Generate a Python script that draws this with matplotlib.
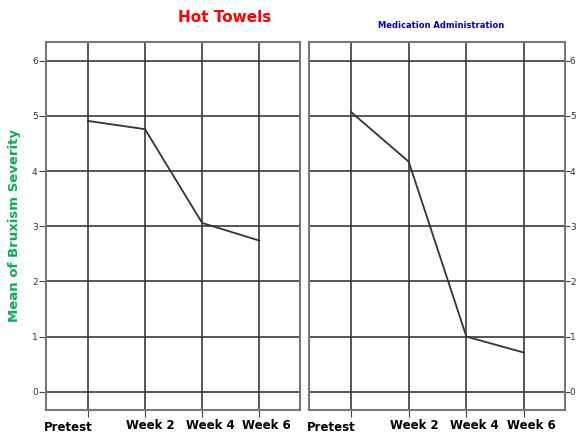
import matplotlib
matplotlib.use('Agg')
import matplotlib.pyplot as plt

TIMEPOINTS = ['Pretest', 'Week 2', 'Week 4', 'Week 6']
HOT_TOWELS = [4.91, 4.76, 3.06, 2.74]
MEDICATION = [5.07, 4.17, 1.00, 0.71]
Y_TICKS = [0, 1, 2, 3, 4, 5, 6]

fig = plt.figure(figsize=(5.76, 4.34), dpi=100)
ax1 = fig.add_axes([46 / 576, 1 - 410 / 434, 254 / 576, 368 / 434])
ax2 = fig.add_axes([309 / 576, 1 - 410 / 434, 256 / 576, 368 / 434])

x = list(range(len(TIMEPOINTS)))
for ax, vals in [(ax1, HOT_TOWELS), (ax2, MEDICATION)]:
    ax.plot(x, vals, color='#333333', lw=1.3, zorder=3)
    ax.set_xlim(-0.73, 3.71)
    ax.set_ylim(-0.33, 6.34)
    ax.set_xticks(x)
    ax.set_yticks(Y_TICKS)
    ax.grid(True, color='#3a3a3a', lw=1.2)
    ax.set_axisbelow(True)
    for s in ax.spines.values():
        s.set_color('#777777')
        s.set_linewidth(1.5)
    ax.tick_params(axis='x', length=5, color='#444444', labelbottom=False)
    ax.tick_params(axis='y', length=5, color='#444444', labelsize=6.5,
                   labelcolor='#333333', pad=1)
    # category labels sit a little off the ticks, as in the original
    offs = [(-14, -12.5), (4, -11.5), (6, -11.5), (5, -11.5)]
    for i, lab in enumerate(TIMEPOINTS):
        ax.annotate(lab, xy=(i, 0), xycoords=('data', 'axes fraction'),
                    xytext=offs[i], textcoords='offset points', ha='center',
                    va='center', fontsize=8.5, fontweight='bold', color='black')

ax2.yaxis.tick_right()
ax2.tick_params(axis='y', length=3.5, color='#444444', labelsize=6.5,
                labelcolor='#333333', pad=0)

ax1.set_ylabel('Mean of Bruxism Severity', color='#00B050', fontsize=9.5,
               fontweight='bold', labelpad=8)
fig.text(225 / 576, 1 - 18 / 434, 'Hot Towels', color='red', fontsize=11,
         fontweight='bold', ha='center', va='center')
fig.text(441 / 576, 1 - 26 / 434, 'Medication Administration', color='#0000CC',
         fontsize=6, fontweight='bold', ha='center', va='center')

plt.savefig('out.png', dpi=100)
